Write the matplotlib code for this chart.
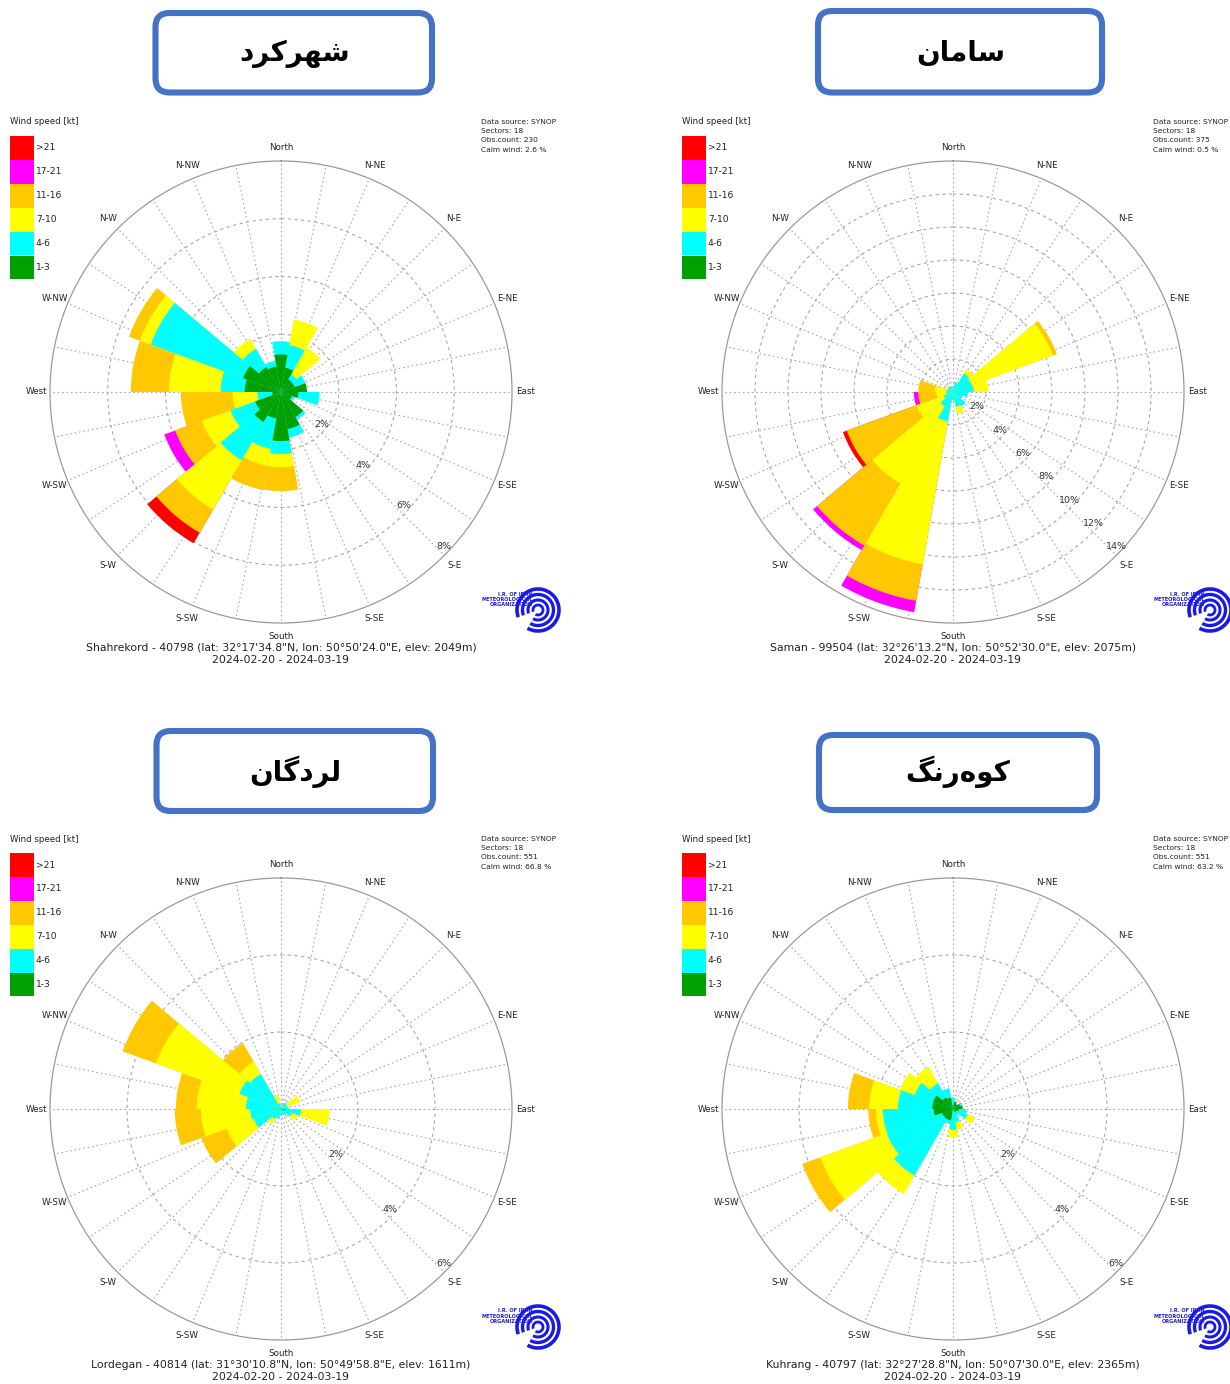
import numpy as np
import matplotlib
matplotlib.use('Agg')
import matplotlib.pyplot as plt
from matplotlib.patches import FancyBboxPatch, Rectangle, Arc

W, H = 1230, 1384

# ---------------- data ----------------
directions = [0, 20, 40, 60, 80, 100, 120, 140, 160, 180, 200, 220, 240, 260, 280, 300, 320, 340]
compass_labels = ["North", "N-NE", "N-E", "E-NE", "East", "E-SE", "S-E", "S-SE",
                  "South", "S-SW", "S-W", "W-SW", "West", "W-NW", "N-W", "N-NW"]
speed_classes = ["1-3", "4-6", "7-10", "11-16", "17-21", ">21"]
class_colors = ["#00A000", "#00FFFF", "#FFFF00", "#FFC800", "#FF00FF", "#FF0000"]

# Shahrekord (% per sector, per speed class)
shahrekord_1_3 = [1.3, 0.85, 0.5, 0.5, 0.9, 0.6, 0.4, 1.0, 1.3, 1.7, 0.93, 1.2, 0.95, 0.3, 1.26, 1.4, 1.0, 0.9]
shahrekord_4_6 = [0.46, 0.8, 0.2, 0.4, 0.0, 0.74, 0.1, 0.1, 0.3, 0.45, 1.07, 1.53, 0.91, 0.52, 0.83, 3.4, 0.73, 0.2]
shahrekord_7_10 = [0, 0.9, 1.08, 0, 0, 0, 0, 0, 0, 0.45, 0.6, 1.97, 1.06, 0.86, 1.79, 0.4, 0.4, 0]
shahrekord_11_16 = [0, 0, 0, 0, 0, 0, 0, 0, 0, 0.83, 0.85, 0.93, 0.98, 1.79, 1.32, 0.4, 0, 0]
shahrekord_17_21 = [0, 0, 0, 0, 0, 0, 0, 0, 0, 0, 0, 0, 0.4, 0, 0, 0, 0, 0]
shahrekord_gt21 = [0, 0, 0, 0, 0, 0, 0, 0, 0, 0, 0, 0.42, 0, 0, 0, 0, 0, 0]

# Saman
saman_1_3 = [0] * 18
saman_4_6 = [0.3, 0.6, 1.3, 1.2, 1.25, 0.9, 0.6, 1.0, 0.9, 0.5, 1.8, 1.0, 0.6, 0.4, 0.4, 0.3, 0.4, 0.3]
saman_7_10 = [0, 0, 0.3, 5.25, 0.89, 0, 0, 0, 0.46, 0, 8.8, 5.4, 1.76, 0.6, 0.7, 0.2, 0, 0]
saman_11_16 = [0, 0, 0, 0.25, 0, 0, 0, 0, 0, 0, 2.25, 4.35, 4.49, 1.1, 1.0, 0, 0, 0]
saman_17_21 = [0, 0, 0, 0, 0, 0, 0, 0, 0, 0, 0.7, 0.32, 0, 0.28, 0, 0, 0, 0]
saman_gt21 = [0, 0, 0, 0, 0, 0, 0, 0, 0, 0, 0, 0, 0.25, 0, 0, 0, 0, 0]

# Lordegan
lordegan_1_3 = [0, 0, 0, 0, 0, 0.1, 0, 0, 0, 0, 0, 0, 0, 0, 0, 0.05, 0, 0]
lordegan_4_6 = [0.1, 0.1, 0.2, 0.15, 0.2, 0.42, 0.3, 0.2, 0.15, 0.15, 0.25, 0.3, 0.75, 0.8, 0.91, 1.1, 1.05, 0.15]
lordegan_7_10 = [0, 0, 0, 0.38, 0, 0.74, 0.18, 0, 0, 0, 0, 0.15, 0.75, 1.28, 1.28, 2.31, 0.37, 0.21]
lordegan_11_16 = [0, 0, 0, 0, 0, 0, 0, 0, 0, 0, 0, 0, 0.7, 0.68, 0.54, 0.92, 0.55, 0]
lordegan_17_21 = [0] * 18
lordegan_gt21 = [0] * 18

# Kuhrang
kuhrang_1_3 = [0.1, 0.2, 0.15, 0.2, 0.25, 0.15, 0.1, 0.1, 0, 0, 0.3, 0.3, 0.3, 0.5, 0.54, 0.55, 0.35, 0.3]
kuhrang_4_6 = [0.2, 0, 0, 0.05, 0, 0.2, 0.3, 0.1, 0.35, 0.54, 0.1, 1.7, 1.53, 1.32, 0.89, 0.51, 0.43, 0.25]
kuhrang_7_10 = [0, 0, 0, 0, 0, 0, 0.2, 0, 0.2, 0.19, 0, 0.55, 1.84, 0.18, 0.75, 0.41, 0.49, 0]
kuhrang_11_16 = [0, 0, 0, 0, 0, 0, 0, 0, 0, 0, 0, 0, 0.5, 0.2, 0.55, 0, 0, 0]
kuhrang_17_21 = [0] * 18
kuhrang_gt21 = [0] * 18

# Persian station titles (pre-shaped presentation forms, visual order)
title_shahrekord = "\uFEA9\uFEAE\uFB90\uFEAE\uFEEC\uFEB7"   # شهرکرد
title_saman = "\uFEE5\uFE8E\uFEE3\uFE8E\uFEB3"              # سامان
title_lordegan = "\uFEE5\uFE8E\uFB94\uFEA9\uFEAE\uFEDF"     # لردگان
title_kuhrang = "\uFB93\uFEE7\uFEAD\uFEE9\uFEEE\uFB90"      # کوهرنگ

footers = [
    "Shahrekord - 40798 (lat: 32\u00b017'34.8\"N, lon: 50\u00b050'24.0\"E, elev: 2049m)",
    "Saman - 99504 (lat: 32\u00b026'13.2\"N, lon: 50\u00b052'30.0\"E, elev: 2075m)",
    "Lordegan - 40814 (lat: 31\u00b030'10.8\"N, lon: 50\u00b049'58.8\"E, elev: 1611m)",
    "Kuhrang - 40797 (lat: 32\u00b027'28.8\"N, lon: 50\u00b007'30.0\"E, elev: 2365m)",
]
period = "2024-02-20 - 2024-03-19"
obs_counts = [230, 375, 551, 551]
calm_winds = ["2.6", "0.5", "66.8", "63.2"]
ring_steps = [[2, 4, 6, 8], [2, 4, 6, 8, 10, 12, 14], [2, 4, 6], [2, 4, 6]]

stations = [
    dict(title=title_shahrekord,
         data=[shahrekord_1_3, shahrekord_4_6, shahrekord_7_10, shahrekord_11_16, shahrekord_17_21, shahrekord_gt21],
         center=(281, 392), box=(155.5, 13, 432, 92.5), tpos=(295, 54)),
    dict(title=title_saman,
         data=[saman_1_3, saman_4_6, saman_7_10, saman_11_16, saman_17_21, saman_gt21],
         center=(953, 392), box=(818, 11, 1102, 92.5), tpos=(961, 53)),
    dict(title=title_lordegan,
         data=[lordegan_1_3, lordegan_4_6, lordegan_7_10, lordegan_11_16, lordegan_17_21, lordegan_gt21],
         center=(281, 1109), box=(156.5, 731, 433, 811), tpos=(295, 772)),
    dict(title=title_kuhrang,
         data=[kuhrang_1_3, kuhrang_4_6, kuhrang_7_10, kuhrang_11_16, kuhrang_17_21, kuhrang_gt21],
         center=(953, 1109), box=(819, 735, 1097, 810), tpos=(958, 772)),
]

fig = plt.figure(figsize=(W / 100, H / 100), dpi=100)
fig.patch.set_facecolor("white")

R = 231
theta = np.deg2rad(directions)
width = np.deg2rad(20)

for i, st in enumerate(stations):
    cx, cy = st["center"]
    rings = ring_steps[i]
    rmax = rings[-1]
    ax = fig.add_axes([(cx - R) / W, 1 - (cy + R) / H, 2 * R / W, 2 * R / H], projection="polar")
    ax.set_theta_zero_location("N")
    ax.set_theta_direction(-1)
    ax.set_ylim(0, rmax)
    ax.set_axisbelow(True)
    ax.set_xticks(np.deg2rad(np.arange(0, 360, 11.25)))
    ax.set_xticklabels([])
    ax.set_yticks(rings[:-1])
    ax.set_yticklabels([])
    ax.xaxis.grid(True, color="#a8a8a8", linestyle=(0, (1.5, 2.5)), linewidth=0.8)
    ax.yaxis.grid(True, color="#a8a8a8", linestyle=(0, (3, 3)), linewidth=0.8)
    ax.spines["polar"].set_color("#9a9a9a")
    ax.spines["polar"].set_linewidth(0.9)
    ax.tick_params(length=0)

    arr = np.array(st["data"], dtype=float)
    cum = np.cumsum(arr, axis=0)
    for k in reversed(range(len(speed_classes))):
        mask = arr[k] > 0
        if mask.any():
            ax.bar(theta[mask], cum[k][mask], width=width, bottom=0,
                   color=class_colors[k], edgecolor="none", linewidth=0, zorder=2)

    for j, lab in enumerate(compass_labels):
        ax.text(np.deg2rad(j * 22.5), rmax * 1.06, lab, ha="center", va="center",
                fontsize=6.3, color="#222222", clip_on=False)
    for v in rings:
        ax.annotate(f"{v}%", xy=(np.deg2rad(135), v), xytext=(0, 6.2), textcoords="offset points",
                    ha="center", va="center", fontsize=6.8, color="#333333", zorder=5)

# overlay in pixel coordinates
ov = fig.add_axes([0, 0, 1, 1])
ov.set_xlim(0, W)
ov.set_ylim(H, 0)
ov.axis("off")

legend_colors = class_colors[::-1]
legend_labels = speed_classes[::-1]

for i, st in enumerate(stations):
    cx, cy = st["center"]
    x0, y0, x1, y1 = st["box"]
    ov.add_patch(FancyBboxPatch((x0, y0), x1 - x0, y1 - y0,
                                boxstyle="round,pad=0,rounding_size=14",
                                linewidth=4.4, edgecolor="#4472C4", facecolor="white"))
    ov.text(st["tpos"][0], st["tpos"][1], st["title"], ha="center", va="center",
            fontsize=20, fontweight="bold", family=["DejaVu Sans"], color="black")

    # legend
    lx = cx - 271
    ov.text(lx, cy - 270, "Wind speed [kt]", ha="left", va="center", fontsize=6.2, color="#222222")
    for k in range(6):
        yb = cy - 256 + k * 23.9
        ov.add_patch(Rectangle((lx, yb), 23.5, 23.9, facecolor=legend_colors[k], edgecolor="none"))
        ov.text(lx + 26, yb + 12, legend_labels[k], ha="left", va="center", fontsize=6.6, color="#222222")

    # info
    ix = cx + 200
    info = ["Data source: SYNOP", "Sectors: 18", f"Obs.count: {obs_counts[i]}",
            f"Calm wind: {calm_winds[i]} %"]
    for k, line in enumerate(info):
        ov.text(ix, cy - 270 + k * 9.2, line, ha="left", va="center", fontsize=5.4, color="#222222")

    # footer
    ov.text(cx, cy + 256, footers[i], ha="center", va="center", fontsize=7.8, color="#222222")
    ov.text(cx, cy + 268, period, ha="center", va="center", fontsize=7.8, color="#222222")

    # logo
    lcx, lcy = cx + 257, cy + 218
    for rr, lw in [(21, 2.6), (15.5, 2.4), (10, 2.2), (5, 2.0)]:
        ov.add_patch(Arc((lcx, lcy), 2 * rr, 2 * rr, theta1=-200, theta2=120,
                         color="#1a1aE6", linewidth=lw))
    for k, t in enumerate(["I.R. OF IRAN", "METEOROLOGICAL", "ORGANIZATION"]):
        ov.text(lcx - 5, lcy - 16 + k * 5.2, t, ha="right", va="center", fontsize=3.6,
                fontweight="bold", color="#1a1aE6")

fig.savefig("out.png", dpi=100, facecolor="white")
